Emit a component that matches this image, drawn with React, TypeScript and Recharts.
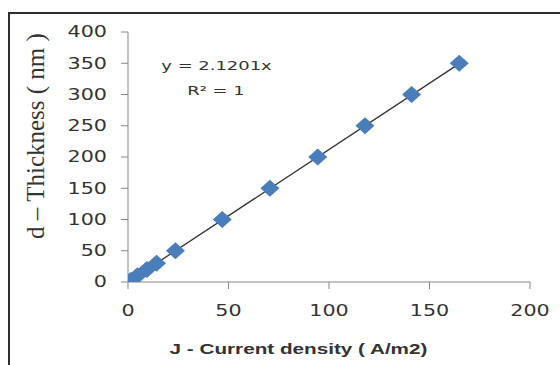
import { ScatterChart, Scatter, XAxis, YAxis } from 'recharts'

// Current density J (A/m2) vs thickness d (nm)
const currentDensity = [1.4, 4.7, 9.4, 14.2, 23.6, 46.9, 70.6, 94.4, 117.9, 141.1, 164.8]
const thickness = [3, 10, 20, 30, 50, 100, 150, 200, 250, 300, 350]

// linear trend line through origin, y = 2.1201x
const trendJ = [0, 164.8]
const trendD = [0, 349.4]

const xTicks = [0, 50, 100, 150, 200]
const yTicks = [0, 50, 100, 150, 200, 250, 300, 350, 400]

const points = currentDensity.map((j, i) => ({ j, d: thickness[i] }))
const trend = trendJ.map((j, i) => ({ j, d: trendD[i] }))

const AXIS = '#868686'
const TEXT = '#333'
const MARKER = '#4a7ebb'
const STRETCH = 1.38

const YTick = ({ x, y, payload }: any) => (
  <text
    transform={`translate(${x},${y}) scale(${STRETCH},1)`}
    textAnchor="end"
    dy="0.36em"
    fontFamily="DejaVu Sans"
    fontSize={15}
    fill={TEXT}
  >
    {payload.value}
  </text>
)

const XTick = ({ x, y, payload }: any) => (
  <text
    transform={`translate(${x},${y}) scale(${STRETCH},1)`}
    textAnchor="middle"
    dy="0.36em"
    fontFamily="DejaVu Sans"
    fontSize={15}
    fill={TEXT}
  >
    {payload.value}
  </text>
)

const Diamond = ({ cx, cy }: any) => (
  <polygon
    points={`${cx},${cy - 8.5} ${cx + 9.5},${cy} ${cx},${cy + 8.5} ${cx - 9.5},${cy}`}
    fill={MARKER}
  />
)

const NoShape = () => <g />

export default function App() {
  return (
    <div
      style={{
        position: 'fixed',
        left: 0,
        top: 0,
        width: 560,
        height: 365,
        overflow: 'hidden',
        background: '#fff',
      }}
    >
      <div
        style={{
          position: 'absolute',
          left: 8,
          top: 12,
          width: 620,
          height: 420,
          border: '2px solid #2e2e2e',
        }}
      />
      <div style={{ position: 'absolute', left: 0, top: 0 }}>
        <ScatterChart width={560} height={365} margin={{ top: 32, right: 30, bottom: 0, left: 0 }}>
          <XAxis
            type="number"
            dataKey="j"
            domain={[0, 200]}
            ticks={xTicks}
            height={83}
            tickSize={7}
            tickMargin={22}
            stroke={AXIS}
            tick={<XTick />}
            allowDataOverflow
          />
          <YAxis
            type="number"
            dataKey="d"
            domain={[0, 400]}
            ticks={yTicks}
            width={128}
            tickSize={7}
            tickMargin={14}
            stroke={AXIS}
            tick={<YTick />}
            allowDataOverflow
          />
          <Scatter
            data={trend}
            line={{ stroke: '#333', strokeWidth: 1.3 }}
            lineType="joint"
            shape={<NoShape />}
            isAnimationActive={false}
          />
          <Scatter data={points} shape={<Diamond />} isAnimationActive={false} />
        </ScatterChart>
      </div>
      <svg
        width={560}
        height={365}
        style={{ position: 'absolute', left: 0, top: 0, pointerEvents: 'none' }}
      >
        <text
          transform={`translate(216.5,65) scale(${STRETCH},1)`}
          textAnchor="middle"
          dy="0.36em"
          fontFamily="DejaVu Sans"
          fontSize={13}
          fill={TEXT}
        >
          y = 2.1201x
        </text>
        <text
          transform={`translate(216,90) scale(${STRETCH},1)`}
          textAnchor="middle"
          dy="0.36em"
          fontFamily="DejaVu Sans"
          fontSize={13}
          fill={TEXT}
        >
          R² = 1
        </text>
        <text
          transform={`translate(298.5,349) scale(${STRETCH},1)`}
          textAnchor="middle"
          dy="0.36em"
          fontFamily="Liberation Sans"
          fontWeight="bold"
          fontSize={15}
          fill={TEXT}
        >
          J - Current density ( A/m2)
        </text>
        <text
          transform="translate(36,136) rotate(-90)"
          textAnchor="middle"
          dy="0.32em"
          fontFamily="Liberation Serif"
          fontSize={25}
          fill={TEXT}
        >
          d – Thickness ( nm )
        </text>
      </svg>
    </div>
  )
}
